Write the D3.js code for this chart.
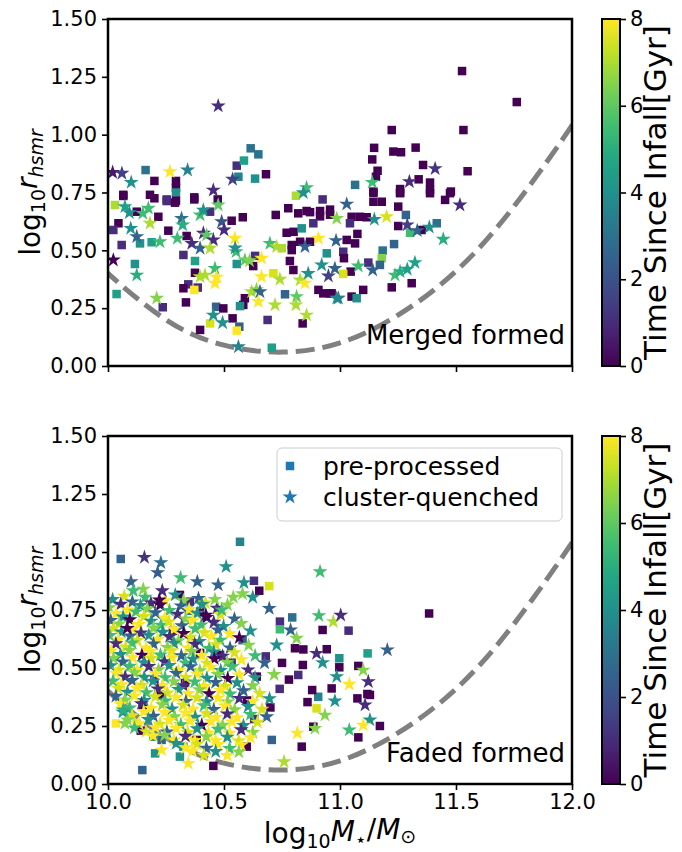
<!DOCTYPE html>
<html>
<head>
<meta charset="utf-8">
<script src="https://cdn.jsdelivr.net/npm/d3@7"></script>
<style>
  body { margin: 0; background: #fff; }
  text { font-family: "DejaVu Sans", sans-serif; }
</style>
</head>
<body>
<svg id="chart" width="682" height="852"></svg>
<script>
// axis settings
const massDomain = [10, 12];
const radiusDomain = [0, 1.5];
const timeDomain = [0, 8];
const massTicks = [10.0, 10.5, 11.0, 11.5, 12.0];
const radiusTicks = [0, 0.25, 0.5, 0.75, 1.0, 1.25, 1.5];
const timeTicks = [0, 2, 4, 6, 8];

// dashed boundary
const boundaryMass = [9.9, 10.0, 10.25, 10.5, 10.75, 11.0, 11.25, 11.5, 11.75, 12.0, 12.1];
const boundaryRadius = [0.5, 0.40, 0.20, 0.09, 0.06, 0.10, 0.22, 0.41, 0.69, 1.04, 1.2];

// [log mass, log r_hsmr, time since infall]
const mergedSquares = [
  [10.615,0.941,3],[10.648,0.915,3],[10.555,0.866,1],[10.586,0.888,4.5],[10.162,0.847,3],[10.2,0.80,0],
  [10.293,0.80,0],[10.293,0.77,0],[10.293,0.75,4],[10.562,0.818,3.5],[10.634,0.81,4],[10.681,0.829,0],
  [10.066,0.74,0],[10.181,0.74,0],[10.2,0.725,0],[10.253,0.72,1],[10.293,0.715,0],[10.372,0.72,0],
  [10.473,0.72,0],[10.81,0.736,7],[10.925,0.72,1],
  [11.526,1.275,0],[11.762,1.141,0],[11.223,1.02,0],[11.532,1.02,0],[11.147,0.943,0],[11.23,0.927,0],
  [11.263,0.924,0],[11.326,0.944,0],[11.139,0.893,0],[11.358,0.869,0],[11.162,0.844,0],[11.55,0.842,0],
  [11.155,0.818,0],[11.065,0.783,3],[11.339,0.807,0],[11.388,0.793,0],[11.388,0.761,0],[11.259,0.765,0],
  [11.259,0.749,0],[11.478,0.754,0],[11.144,0.749,0],
  [10.066,0.735,0],[10.03,0.696,7],[10.124,0.667,0],[10.217,0.645,0],[10.045,0.617,0],[10.023,0.588,1],
  [10.059,0.523,1],[10.138,0.53,4],[10.188,0.535,4.5],[10.253,0.713,1],[10.289,0.706,0],[10.26,0.585,0],
  [10.339,0.562,0],[10.372,0.729,0],[10.44,0.667,1],[10.533,0.628,0],[10.581,0.643,0],[10.325,0.48,1],
  [10.375,0.454,4.5],[10.555,0.441,4],[10.634,0.476,1],[10.626,0.432,0],[10.375,0.403,0],[10.346,0.353,1],
  [10.387,0.339,1],[10.372,0.329,8],[10.325,0.336,0],[10.336,0.275,0],[10.037,0.311,4.5],[10.116,0.441,4],
  [10.236,0.254,1],[10.466,0.256,2.5],[10.497,0.249,0],[10.44,0.184,7.5],[10.537,0.206,0],[10.566,0.17,2.5],
  [10.555,0.153,8],[10.397,0.156,0],[10.706,0.079,4.5],[10.723,0.653,0],[10.777,0.682,0],[10.82,0.66,0],
  [10.77,0.576,0],[10.80,0.58,0],[10.749,0.509,7],[10.792,0.523,0],[10.792,0.501,0],[10.784,0.454,0],
  [10.59,0.293,0],[10.583,0.264,0],[10.569,0.259,4],[10.688,0.199,1],[10.713,0.401,7.5],[10.763,0.31,2.5],
  [10.828,0.537,0],[10.871,0.537,0],[10.856,0.67,0],[10.871,0.665,0],[10.914,0.67,0],[10.914,0.647,0],
  [10.957,0.676,0],[10.957,0.654,0],[10.885,0.617,1],[10.835,0.595,4],[10.799,0.415,0],[10.839,0.184,0],
  [10.907,0.329,0],[10.928,0.314,0],[10.957,0.314,0],[10.943,0.487,4],
  [11.144,0.754,0],[11.18,0.71,0],[11.144,0.71,0],[11.259,0.747,0],[11.388,0.747,0],[11.474,0.747,0],
  [11.453,0.718,0],[11.251,0.689,0],[11.05,0.645,0],[11.086,0.645,0],[11.115,0.643,0],[11.043,0.617,1],
  [11.284,0.653,2.5],[11.251,0.605,0],[11.302,0.576,5.5],[11.352,0.588,0],[11.417,0.617,3],[11.075,0.571,0],
  [11.029,0.545,0],[11.065,0.53,0],[11.014,0.494,1],[11.017,0.466,0],[11.233,0.527,2.5],[11.184,0.499,3],
  [11.18,0.466,6.5],[11.122,0.447,1],[11.172,0.437,2.5],[11.046,0.408,0],[11.014,0.398,7.5],[11.309,0.358,0],
  [11.223,0.34,0],[11.1,0.329,0],[11.05,0.30,0],[11.072,0.293,4],[10.964,0.314,0]
];

const mergedStars = [
  [10.475,1.124,1],[10.02,0.837,0.5],[10.06,0.833,1.5],[10.10,0.794,4],[10.267,0.84,8],[10.343,0.847,3.5],
  [10.537,0.807,1.5],[10.454,0.76,1],[10.856,0.771,5.5],[10.842,0.749,4],
  [11.41,0.853,1.2],[11.139,0.794,5.5],[11.299,0.797,1],
  [10.073,0.689,4.5],[10.092,0.663,4],[10.15,0.66,5.5],[10.174,0.682,5.5],[10.181,0.617,7],[10.098,0.595,4],
  [10.124,0.559,2.5],[10.224,0.537,5.5],[10.299,0.552,5.5],[10.361,0.53,1],[10.317,0.638,3],[10.322,0.61,5],
  [10.397,0.653,5.5],[10.411,0.674,4],[10.475,0.696,6],[10.411,0.574,1],[10.397,0.509,2.5],[10.425,0.566,6],
  [10.454,0.545,1],[10.44,0.509,7],[10.49,0.624,2],[10.5,0.588,1],[10.547,0.552,8],[10.552,0.494,5.5],
  [10.548,0.51,4],[10.59,0.458,6],[10.61,0.455,6.5],[10.662,0.466,8],[10.397,0.386,7],[10.418,0.393,7],
  [10.461,0.422,5.5],[10.468,0.384,8],[10.461,0.358,8],[10.124,0.393,5],[10.023,0.458,0],[10.21,0.293,6.5],
  [10.454,0.22,4],[10.494,0.187,4],[10.562,0.083,3.5],[10.698,0.53,5.5],[10.727,0.516,7],[10.662,0.386,8],
  [10.619,0.321,7],[10.64,0.33,6.5],[10.655,0.321,2.5],[10.648,0.278,8],[10.72,0.264,7],[10.741,0.375,7],
  [10.849,0.516,2.5],[10.907,0.552,8],[10.828,0.372,7],[10.849,0.358,8],[10.863,0.40,4],[10.813,0.30,6],
  [10.81,0.264,7],[10.856,0.22,7],[10.921,0.437,4],[10.95,0.389,1.5],[10.978,0.422,2.5],[10.986,0.293,4],
  [10.983,0.542,2.5],[10.986,0.638,6.5],
  [11.029,0.70,2.5],[11.517,0.696,1],[11.148,0.634,4],[11.201,0.645,7.5],[11.29,0.61,1.5],[11.333,0.585,2.5],
  [11.385,0.60,4],[11.445,0.548,5],[11.141,0.415,2.5],[11.079,0.432,5.5],[11.237,0.393,5.5],[11.259,0.408,5],
  [11.29,0.418,4.5],[11.323,0.447,4.5],[10.993,0.293,3.5]
];

const fadedSquares = [
  [10.055,0.97,2.5],[10.569,1.044,3.5],[10.629,0.876,1],[10.695,0.853,7.5],[10.652,0.833,0],[10.31,0.815,0],
  [10.353,0.786,1],[10.349,0.747,3.5],[10.397,0.743,0],[11.384,0.735,0],[11.119,0.563,4.5],[11.129,0.384,0],
  [11.079,0.509,0],[10.997,0.503,0],[10.997,0.542,4],[10.943,0.581,0],[10.964,0.412,0],[11.075,0.369,0],
  [11.118,0.388,0],[11.172,0.25,0],[11.079,0.201,0],[10.835,0.161,0],[10.899,0.326,7.5],[10.906,0.376,3.5],
  [10.885,0.247,0],[10.925,0.664,0],[11.037,0.661,1],[10.794,0.718,3],[10.741,0.70,1],[10.806,0.585,0],
  [10.842,0.58,0],[10.741,0.667,5.5],[10.034,0.261,8],[10.124,0.261,7.5],[10.141,0.23,0],[10.195,0.204,4],
  [10.231,0.19,2.5],[10.203,0.132,4],[10.148,0.06,2.5],[10.31,0.118,4],[10.325,0.161,4],[10.454,0.078,0],
  [10.483,0.556,0],[10.533,0.523,1],[10.641,0.463,0],[10.397,0.565,0],[10.332,0.435,0],[10.224,0.384,0],
  [10.382,0.19,0],[10.598,0.161,0],[10.706,0.19,2.5],[10.75,0.522,0],[10.84,0.513,0],[10.88,0.405,0],
  [10.86,0.353,0],[10.74,0.41,1],[10.78,0.45,0],[10.82,0.47,1],[10.6,0.36,0],[10.7,0.33,0],[10.68,0.55,1],
  [10.63,0.28,1],[10.58,0.62,2.5],[10.28,0.66,0],[10.2,0.45,1],[10.15,0.34,0]
];

const fadedStars = [
  [10.02,0.795,4],[10.07,0.81,7.5],[10.105,0.785,2.5],[10.16,0.805,5.5],[10.185,0.78,1],[10.245,0.79,8],[10.29,0.815,4],[10.325,0.79,6.5],[10.39,0.8,2.5],[10.42,0.78,7.5],
  [10.005,0.76,6.5],[10.055,0.775,1],[10.085,0.75,8],[10.14,0.77,4],[10.17,0.755,6.5],[10.225,0.772,0],[10.265,0.748,5.5],[10.315,0.768,2.5],[10.35,0.752,8],[10.405,0.774,4],[10.47,0.758,1],[10.515,0.772,6.5],
  [10.035,0.735,8],[10.065,0.72,4],[10.12,0.742,5.5],[10.155,0.722,7.5],[10.205,0.738,2.5],[10.245,0.716,8],[10.3,0.732,1],[10.335,0.712,6.5],[10.385,0.736,4],[10.425,0.718,0],[10.485,0.73,7.5],[10.545,0.712,2.5],
  [10.012,0.705,2.5],[10.048,0.69,6.5],[10.094,0.708,0],[10.133,0.688,8],[10.186,0.702,4],[10.228,0.685,5.5],[10.262,0.699,7.5],[10.318,0.682,2.5],[10.366,0.704,8],[10.402,0.686,5.5],[10.456,0.697,1],[10.498,0.679,4],[10.575,0.692,6.5],
  [10.024,0.672,7.5],[10.058,0.655,4],[10.108,0.668,8],[10.142,0.651,1],[10.196,0.673,6.5],[10.236,0.654,4],[10.284,0.667,8],[10.326,0.649,0],[10.376,0.669,5.5],[10.416,0.652,7.5],[10.474,0.664,2.5],[10.524,0.648,8],[10.614,0.66,4],
  [10.008,0.64,5.5],[10.046,0.622,8],[10.096,0.638,2.5],[10.126,0.619,7.5],[10.176,0.641,4],[10.214,0.624,8],[10.266,0.636,1],[10.304,0.618,6.5],[10.356,0.633,7.5],[10.394,0.615,4],[10.446,0.638,8],[10.484,0.62,5.5],[10.566,0.631,0],
  [10.034,0.605,1],[10.076,0.59,7.5],[10.104,0.608,5.5],[10.164,0.587,8],[10.196,0.604,2.5],[10.256,0.589,6.5],[10.284,0.607,4],[10.346,0.586,8],[10.374,0.603,1],[10.436,0.584,5.5],[10.464,0.601,7.5],[10.526,0.587,2.5],[10.606,0.598,6.5],
  [10.014,0.574,8],[10.054,0.558,4],[10.094,0.576,6.5],[10.146,0.555,0],[10.184,0.572,8],[10.226,0.556,5.5],[10.274,0.575,7.5],[10.316,0.553,2.5],[10.362,0.571,6.5],[10.404,0.554,8],[10.456,0.569,4],[10.494,0.551,1],[10.545,0.566,7.5],[10.634,0.553,5.5],
  [10.024,0.542,6.5],[10.064,0.526,2.5],[10.106,0.545,8],[10.154,0.523,4],[10.186,0.541,7.5],[10.244,0.527,1],[10.276,0.544,8],[10.334,0.522,5.5],[10.366,0.538,4],[10.426,0.521,7.5],[10.458,0.54,0],[10.514,0.524,6.5],[10.575,0.536,8],[10.675,0.522,2.5],
  [10.012,0.51,4],[10.048,0.492,7.5],[10.094,0.508,5.5],[10.126,0.49,8],[10.176,0.507,1],[10.218,0.493,6.5],[10.264,0.511,4],[10.304,0.489,8],[10.356,0.506,2.5],[10.396,0.488,6.5],[10.444,0.504,8],[10.486,0.49,4],[10.536,0.506,5.5],[10.604,0.492,1],
  [10.034,0.478,8],[10.074,0.462,1],[10.114,0.48,6.5],[10.156,0.46,4],[10.204,0.476,8],[10.246,0.458,5.5],[10.294,0.477,2.5],[10.336,0.459,7.5],[10.384,0.474,8],[10.426,0.456,4],[10.474,0.472,6.5],[10.516,0.455,0],[10.566,0.47,8],[10.634,0.458,4],[10.716,0.472,6.5],
  [10.022,0.444,5.5],[10.058,0.428,8],[10.104,0.446,2.5],[10.146,0.426,7.5],[10.194,0.443,4],[10.236,0.425,8],[10.284,0.441,6.5],[10.326,0.424,1],[10.374,0.44,5.5],[10.416,0.422,8],[10.464,0.438,2.5],[10.506,0.421,7.5],[10.556,0.437,4],[10.624,0.424,6.5],
  [10.044,0.412,7.5],[10.084,0.396,4],[10.124,0.413,8],[10.166,0.394,5.5],[10.214,0.41,1],[10.256,0.392,7.5],[10.304,0.408,4],[10.346,0.39,8],[10.394,0.406,6.5],[10.436,0.389,0],[10.484,0.404,8],[10.526,0.388,5.5],[10.584,0.402,2.5],[10.654,0.39,7.5],
  [10.034,0.378,2.5],[10.074,0.362,6.5],[10.114,0.38,8],[10.156,0.36,4],[10.204,0.376,7.5],[10.246,0.358,5.5],[10.294,0.374,8],[10.336,0.356,2.5],[10.384,0.372,7.5],[10.426,0.355,4],[10.474,0.371,8],[10.516,0.354,6.5],[10.566,0.369,1],[10.624,0.356,8],[10.696,0.368,4],
  [10.054,0.344,8],[10.094,0.328,5.5],[10.144,0.346,1],[10.186,0.326,8],[10.234,0.342,6.5],[10.276,0.324,4],[10.324,0.34,7.5],[10.366,0.322,8],[10.414,0.338,5.5],[10.456,0.321,2.5],[10.504,0.336,8],[10.546,0.32,6.5],[10.604,0.334,4],[10.664,0.322,7.5],
  [10.064,0.31,4],[10.104,0.294,7.5],[10.154,0.312,8],[10.196,0.292,2.5],[10.244,0.308,8],[10.286,0.29,6.5],[10.334,0.306,8],[10.376,0.288,4],[10.424,0.304,7.5],[10.466,0.287,8],[10.514,0.302,1],[10.556,0.286,8],[10.614,0.3,5.5],[10.684,0.29,2.5],
  [10.084,0.276,6.5],[10.134,0.26,8],[10.174,0.278,4],[10.224,0.258,7.5],[10.264,0.274,8],[10.314,0.256,5.5],[10.354,0.272,8],[10.404,0.254,0],[10.444,0.27,8],[10.494,0.253,6.5],[10.534,0.268,8],[10.584,0.252,4],[10.644,0.266,7.5],
  [10.114,0.242,5.5],[10.164,0.226,7.5],[10.204,0.244,8],[10.254,0.224,2.5],[10.294,0.24,8],[10.344,0.222,7.5],[10.384,0.238,4],[10.434,0.22,8],[10.474,0.236,5.5],[10.524,0.219,8],[10.574,0.234,1],[10.624,0.222,6.5],
  [10.194,0.208,8],[10.244,0.21,6.5],[10.284,0.19,8],[10.334,0.206,1],[10.374,0.188,8],[10.424,0.204,6.5],[10.464,0.187,8],[10.514,0.202,4],[10.564,0.186,7.5],[10.614,0.2,8],
  [10.294,0.175,4],[10.334,0.156,8],[10.384,0.172,7.5],[10.424,0.154,2.5],[10.474,0.17,8],[10.524,0.153,5.5],[10.574,0.168,8],
  [10.364,0.142,8],[10.414,0.124,7.5],[10.464,0.14,4],[10.514,0.123,8],[10.564,0.138,6.5],
  [10.157,0.977,1.2],[10.228,0.954,3],[10.214,0.911,2.3],[10.509,0.937,4],[10.313,0.889,5.5],[10.385,0.872,2.5],
  [10.099,0.872,2.5],[10.475,0.858,2.5],[10.586,0.868,4],[10.152,0.84,6.5],[10.109,0.833,5.5],[10.234,0.833,1],
  [10.461,0.796,6.5],[10.54,0.805,6.5],[10.58,0.82,6.5],[10.624,0.805,4],[10.695,0.757,2.5],[10.49,0.75,5.5],
  [10.422,0.728,0],[10.083,0.671,0],[10.221,0.793,0],[10.914,0.915,5.5],[10.909,0.726,5.5],[10.971,0.70,7],
  [11.003,0.728,1],[10.787,0.664,2.5],[10.813,0.628,6.5],[10.727,0.599,4],[10.899,0.563,1],[11.204,0.578,2.5],
  [11.1,0.491,6.5],[11.122,0.441,1],[11.04,0.43,8],[10.986,0.463,4],[10.925,0.523,4],[10.978,0.358,4],
  [11.108,0.341,1],[11.129,0.276,4],[11.1,0.254,8],[11.04,0.233,5.5],[10.892,0.24,6.5],[10.759,0.096,7],
  [10.816,0.219,8],[10.935,0.297,6.5],[10.066,0.319,5],[10.073,0.261,6.5],[10.231,0.147,8],[10.346,0.089,8]
];

const svg = d3.select("#chart");
const left = 108, right = 572;
const cbX = 602, cbW = 18;

const x = d3.scaleLinear().domain(massDomain).range([left, right]);
const color = t => d3.interpolateViridis(t / timeDomain[1]);

// viridis gradient for the colorbars
const grad = svg.append("defs").append("linearGradient")
  .attr("id", "viridis").attr("x1", 0).attr("y1", 1).attr("x2", 0).attr("y2", 0);
d3.range(0, 1.0001, 0.1).forEach(s => {
  grad.append("stop").attr("offset", s).attr("stop-color", d3.interpolateViridis(s));
});

const side = 8.5;
const star = d3.symbol().type(d3.symbolStar).size(70);

function drawPanel(top, bottom, squares, stars, note, showXLabels, id) {
  const y = d3.scaleLinear().domain(radiusDomain).range([bottom, top]);
  const g = svg.append("g");

  g.append("clipPath").attr("id", "clip" + id)
    .append("rect").attr("x", left).attr("y", top).attr("width", right - left).attr("height", bottom - top);

  const plot = g.append("g").attr("clip-path", `url(#clip${id})`);

  plot.append("path")
    .datum(d3.zip(boundaryMass, boundaryRadius))
    .attr("d", d3.line().x(d => x(d[0])).y(d => y(d[1])).curve(d3.curveNatural))
    .attr("fill", "none").attr("stroke", "#808080")
    .attr("stroke-width", 5).attr("stroke-dasharray", "19,8");

  plot.selectAll(".sq").data(squares).enter().append("rect")
    .attr("x", d => x(d[0]) - side / 2).attr("y", d => y(d[1]) - side / 2)
    .attr("width", side).attr("height", side)
    .attr("fill", d => color(d[2]));

  plot.selectAll(".st").data(stars).enter().append("path")
    .attr("transform", d => `translate(${x(d[0])},${y(d[1])})`)
    .attr("d", star).attr("fill", d => color(d[2]));

  // axes
  const yAxis = g.append("g").attr("transform", `translate(${left},0)`)
    .call(d3.axisLeft(y).tickValues(radiusTicks).tickFormat(d3.format(".2f")).tickSize(6).tickPadding(5));
  const xAxis = g.append("g").attr("transform", `translate(0,${bottom})`)
    .call(d3.axisBottom(x).tickValues(massTicks).tickFormat(showXLabels ? d3.format(".1f") : "").tickSize(6).tickPadding(4));
  [xAxis, yAxis].forEach(a => {
    a.select(".domain").remove();
    a.selectAll("line").attr("stroke", "#000").attr("stroke-width", 1.6);
    a.selectAll("text").attr("fill", "#000").style("font-size", "21px");
  });

  g.append("rect").attr("x", left).attr("y", top).attr("width", right - left).attr("height", bottom - top)
    .attr("fill", "none").attr("stroke", "#000").attr("stroke-width", 2.5);

  g.append("text").attr("x", right - 7).attr("y", bottom - 22)
    .attr("text-anchor", "end").style("font-size", "26px").text(note);

  // y label
  const yl = g.append("text")
    .attr("transform", `translate(40,${(top + bottom) / 2}) rotate(-90)`)
    .attr("text-anchor", "middle").style("font-size", "28px");
  yl.append("tspan").text("log");
  yl.append("tspan").attr("dy", "0.28em").style("font-size", "19px").text("10");
  yl.append("tspan").attr("dy", "-0.28em").style("font-style", "italic").text("r");
  yl.append("tspan").attr("dy", "0.28em").style("font-size", "19px").style("font-style", "italic").text("hsmr");

  // colorbar
  const cy = d3.scaleLinear().domain(timeDomain).range([bottom, top]);
  g.append("rect").attr("x", cbX).attr("y", top).attr("width", cbW).attr("height", bottom - top)
    .attr("fill", "url(#viridis)").attr("stroke", "#000").attr("stroke-width", 2);
  const cAxis = g.append("g").attr("transform", `translate(${cbX + cbW},0)`)
    .call(d3.axisRight(cy).tickValues(timeTicks).tickSize(6).tickPadding(4));
  cAxis.select(".domain").remove();
  cAxis.selectAll("line").attr("stroke", "#000").attr("stroke-width", 1.6);
  cAxis.selectAll("text").attr("fill", "#000").style("font-size", "21px");
  g.append("text")
    .attr("transform", `translate(666,${(top + bottom) / 2}) rotate(-90)`)
    .attr("text-anchor", "middle").style("font-size", "31px").text("Time Since Infall[Gyr]");
}

drawPanel(19, 366, mergedSquares, mergedStars, "Merged formed", false, 1);
drawPanel(436, 784, fadedSquares, fadedStars, "Faded formed", true, 2);

// x label
const xl = svg.append("text").attr("x", (left + right) / 2).attr("y", 843)
  .attr("text-anchor", "middle").style("font-size", "28px");
xl.append("tspan").text("log");
xl.append("tspan").attr("dy", "0.25em").style("font-size", "19px").text("10");
xl.append("tspan").attr("dy", "-0.25em").style("font-style", "italic").text("M");
xl.append("tspan").attr("dy", "0.25em").style("font-size", "19px").text("\u22c6");
xl.append("tspan").attr("dy", "-0.25em").text("/");
xl.append("tspan").style("font-style", "italic").text("M");
xl.append("tspan").attr("dy", "0.25em").style("font-size", "19px").text("\u2299");

// legend
const leg = svg.append("g");
leg.append("rect").attr("x", 277).attr("y", 448).attr("width", 285).attr("height", 73)
  .attr("rx", 5).attr("fill", "#fff").attr("fill-opacity", 0.8).attr("stroke", "#ccc");
leg.append("rect").attr("x", 290 - side / 2).attr("y", 466 - side / 2).attr("width", side).attr("height", side).attr("fill", "#1f77b4");
leg.append("path").attr("transform", "translate(290,497)").attr("d", star).attr("fill", "#1f77b4");
leg.append("text").attr("x", 323).attr("y", 475).style("font-size", "25px").text("pre-processed");
leg.append("text").attr("x", 323).attr("y", 506).style("font-size", "25px").text("cluster-quenched");
</script>
</body>
</html>
